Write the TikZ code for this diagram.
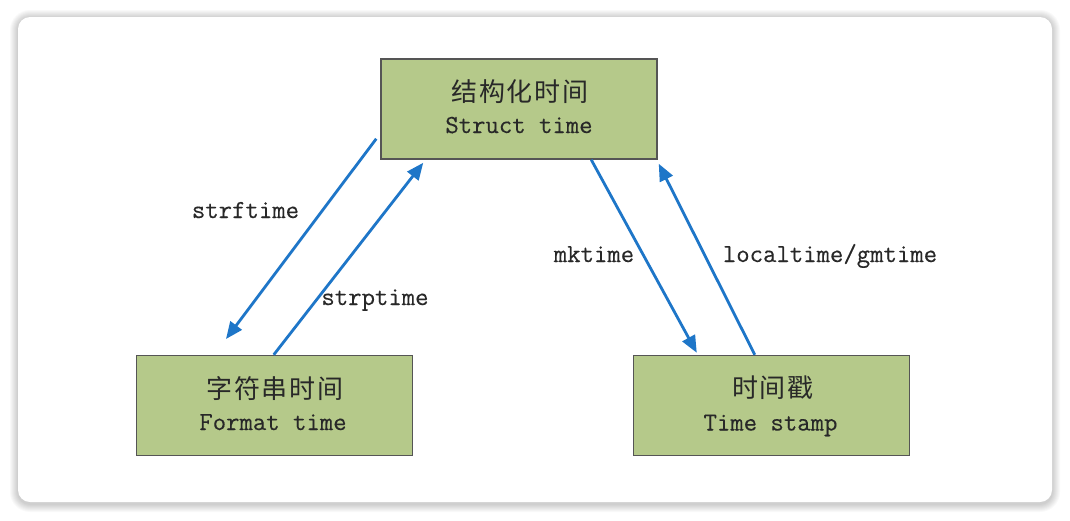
\documentclass[tikz,border=0pt]{standalone}
\usepackage{fontspec}
\newfontfamily\cjk[LetterSpace=6]{Noto Sans CJK SC}
\newfontfamily\mono[FakeBold=0.3]{Latin Modern Mono}
\usetikzlibrary{arrows.meta}
\definecolor{boxfill}{RGB}{181,201,138}
\definecolor{boxline}{RGB}{85,85,85}
\definecolor{arrowblue}{RGB}{30,118,200}
\definecolor{txt}{RGB}{40,40,40}
\begin{document}
\begin{tikzpicture}[x=1pt,y=-1pt,
  box/.style={draw=boxline, line width=1.5pt, fill=boxfill, minimum width=276pt, minimum height=100pt, inner sep=0pt},
  cn/.style={font=\cjk\fontsize{26}{26}\selectfont, text=txt, inner sep=0pt},
  en/.style={font=\mono\fontsize{26}{26}\selectfont, text=txt, inner sep=0pt, anchor=base},
  conn/.style={draw=arrowblue, line width=2.8pt, -{Triangle[length=17pt,width=14pt]}},
]
\useasboundingbox (0,0) rectangle (1070,520);
\fill[white] (0,0) rectangle (1070,520);
% card shadow
\foreach \i in {1,...,8}{
  \pgfmathsetmacro\rr{12+\i}
  \fill[black, opacity=0.022, rounded corners=\rr pt] (18-\i,18-\i) rectangle (1052+\i,504+\i);
}
\fill[white, rounded corners=12pt] (18,17) rectangle (1052,502);

% boxes
\node[box] (struct) at (519,109) {};
\node[box] (fmt) at (274.5,405.5) {};
\node[box] (ts) at (771.5,405.5) {};

\node[cn] (structcn) at (520,91.5) {结构化时间};
\node[en] (structen) at (519,133) {Struct time};
\node[cn] (fmtcn) at (275,389) {字符串时间};
\node[en] (fmten) at (273,430) {Format time};
\node[cn] (tscn) at (773,387.5) {时间戳};
\node[en] (tsen) at (770.5,430.5) {Time stamp};

% connectors
\coordinate (fmtend) at (226,339);
\draw[conn] ([xshift=-4pt,yshift=21pt]struct.south west) -- (fmtend);
\draw[conn] ([xshift=138pt]fmt.north west) -- ([xshift=43pt,yshift=-3pt]struct.south west);
\draw[conn] ([xshift=211pt]struct.south west) -- ([xshift=64pt,yshift=2pt]ts.north west);
\draw[conn] ([xshift=122pt]ts.north west) -- ([xshift=1pt,yshift=-4pt]struct.south east);

% labels
\node[en] (lstrf) at (245.5,218) {strftime};
\node[en] (lstrp) at (375,305) {strptime};
\node[en] (lmk) at (594,262) {mktime};
\node[en] (lloc) at (830,262) {localtime/gmtime};
\end{tikzpicture}
\end{document}
